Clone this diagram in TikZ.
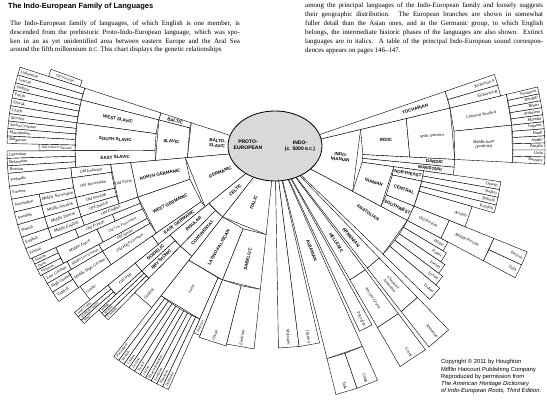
\documentclass[tikz,border=0pt]{standalone}
\usepackage{fontspec}
\setmainfont{Liberation Serif}
\setsansfont{Liberation Sans}
\usetikzlibrary{positioning}

\tikzset{
  cell/.style={draw=black,line width=0.35pt,fill=white},
  lang/.style={inner sep=0.3pt,align=center,font=\fontsize{3.6}{4}\selectfont},
  it/.style={font=\fontsize{3.6}{4}\selectfont\itshape},
  thin/.style={font=\fontsize{3.1}{3.5}\selectfont},
  thinit/.style={font=\fontsize{3.1}{3.5}\selectfont\itshape},
  grp/.style={font=\sffamily\bfseries\fontsize{3.8}{4.3}\selectfont},
  pie/.style={align=center,font=\sffamily\bfseries\fontsize{4.3}{5}\selectfont},
}
\newcounter{cellno}
% one wedge of the fan, angles and radii about the centre
\newcommand{\fpoly}[4]{\draw[cell] (#1:#3) -- (#1:#4) -- (#2:#4) -- (#2:#3) -- cycle;}
\newcommand{\flab}[4][]{%
  \pgfmathsetmacro\fanRot{(#2>90 && #2<270) ? 180-#2 : -#2}%
  \stepcounter{cellno}%
  \node[lang,rotate=\fanRot,#1] (lab\thecellno) at (#2:#3) {#4};}
\newcommand{\fcell}[6][]{\fpoly{#2}{#3}{#4}{#5}%
  \pgfmathsetmacro\fanA{(#2+#3)/2}\pgfmathsetmacro\fanR{(#4+#5)/2}%
  \flab[#1]{\fanA}{\fanR}{#6}}
\newcommand{\ftip}[6][]{\fpoly{#2}{#3}{#4}{#5}%
  \pgfmathsetmacro\fanA{(#2+#3)/2}\pgfmathsetmacro\fanR{#5-1.5}%
  \pgfmathtruncatemacro\fanL{(\fanA>90 && \fanA<270) ? 1 : 0}%
  \ifnum\fanL=1 \flab[anchor=west,#1]{\fanA}{\fanR}{#6}\else\flab[anchor=east,#1]{\fanA}{\fanR}{#6}\fi}

\begin{document}
\begin{tikzpicture}[x=0.03cm,y=-0.03cm]
\useasboundingbox (0,0) rectangle (547,400);
\fill[white] (0,0) rectangle (547,400);

% heading and text
\node[anchor=north west,inner sep=0,font=\sffamily\bfseries\fontsize{6.4}{7}\selectfont] (title) at (8,2.5) {The Indo-European Family of Languages};
\node[anchor=north west,inner sep=0,text width=196pt,align=justify,font=\fontsize{5.9}{7.5}\selectfont] (textL) at (10,20.5) {\parfillskip=0pt
The Indo-European family of languages, of which English is one member, is\linebreak
descended from the prehistoric Proto-Indo-European language, which was spo-\linebreak
ken in an as yet unidentified area between eastern Europe and the Aral Sea\linebreak
around the fifth millennium {\fontsize{4.7}{5}\selectfont B.C.} This chart displays the genetic relationships};
\node[anchor=north west,inner sep=0,text width=203pt,align=justify,font=\fontsize{5.9}{7.6}\selectfont] (textR) at (305,2.5) {%
among the principal languages of the Indo-European family and loosely suggests\linebreak
their geographic distribution. The European branches are shown in somewhat\linebreak
fuller detail than the Asian ones, and in the Germanic group, to which English\linebreak
belongs, the intermediate historic phases of the languages are also shown. Extinct\linebreak
languages are in italics. A table of the principal Indo-European sound correspon-\linebreak
dences appears on pages 146--147.};
\node[anchor=north west,inner sep=0,align=left,font=\sffamily\fontsize{5}{6.1}\selectfont] (copy) at (441,359.5) {Copyright \textcopyright{} 2011 by Houghton\\
Mifflin Harcourt Publishing Company\\
Reproduced by permission from\\
\textit{The American Heritage Dictionary}\\
\textit{of Indo-European Roots, Third Edition.}};

\begin{scope}[shift={(275,150)}]
% Balto-Slavic
\fcell[grp]{175}{198}{28}{88}{BALTO-\\SLAVIC}
\fcell[grp]{194.5}{198}{88}{120}{BALTIC}
\fcell[grp]{175}{194.5}{88}{120}{SLAVIC}
\fpoly{194.5}{198}{120}{200}
\fcell[grp]{187.8}{194.5}{120}{200}{WEST SLAVIC}
\fcell[grp]{179.8}{187.8}{120}{200}{SOUTH SLAVIC}
\fcell[grp]{175}{179.8}{120}{200}{EAST SLAVIC}
\fcell[thinit]{198}{199.8}{205}{238}{Old Prussian}
\ftip{196.25}{198}{200}{268}{Lithuanian}
\ftip{194.5}{196.25}{200}{268}{Latvian}
\ftip{192.9}{194.5}{200}{268}{Sorbian}
\ftip{191.2}{192.9}{200}{268}{Polish}
\ftip{189.5}{191.2}{200}{268}{Slovak}
\ftip{187.8}{189.5}{200}{268}{Czech}
\ftip{186.2}{187.8}{200}{268}{Slovene}
\ftip{184.6}{186.2}{200}{268}{Serbo-Croatian}
\ftip{183}{184.6}{200}{268}{Macedonian}
\ftip{181.4}{183}{200}{268}{Bulgarian}
\fcell[thinit]{179.8}{181.4}{200}{236}{Old Church Slavonic}
\ftip{178.2}{179.8}{200}{268}{Ukrainian}
\ftip{176.6}{178.2}{200}{268}{Belarusian}
\ftip{175}{176.6}{200}{268}{Russian}

% Germanic
\fcell[grp]{141}{175}{28}{90}{GERMANIC}
\fcell[grp]{161}{175}{90}{145}{NORTH GERMANIC}
\fcell[grp]{145}{161}{90}{145}{WEST GERMANIC}
\fcell[grp]{141}{145}{90}{150}{EAST GERMANIC}
\fcell[it]{161}{175}{145}{165}{Old Norse}
\fcell[it]{172.2}{175}{165}{205}{Old Icelandic}
\fcell[it]{166.6}{172.2}{165}{205}{Old Norwegian}
\fcell[it]{163.8}{166.6}{165}{205}{Old Swedish}
\fcell[it]{161}{163.8}{165}{205}{Old Danish}
\ftip{172.2}{175}{205}{268}{Icelandic}
\ftip{169.4}{172.2}{205}{268}{Faroese}
\fcell[it]{166.6}{169.4}{205}{240}{Middle Norwegian}
\fcell[it]{163.8}{166.6}{205}{240}{Middle Swedish}
\fcell[it]{161}{163.8}{205}{240}{Middle Danish}
\ftip{166.6}{169.4}{240}{268}{Norwegian}
\ftip{163.8}{166.6}{240}{268}{Swedish}
\ftip{161}{163.8}{240}{268}{Danish}
\fcell[it]{158.4}{161}{145}{205}{Old English}
\fcell[it]{158.4}{161}{205}{240}{Middle English}
\ftip{158.4}{161}{240}{268}{English}
\fpoly{156}{158.4}{145}{175}
\fcell[it]{156}{158.4}{175}{215}{Old Frisian}
\ftip{156}{158.4}{215}{268}{Frisian}
\fcell[thinit]{151.8}{156}{145}{195}{Old Low Franconian}
\fcell[it]{151.8}{156}{195}{240}{Middle Dutch}
\ftip[thin]{154.6}{156}{240}{266}{Flemish}
\ftip[thin]{153.2}{154.6}{240}{266}{Dutch}
\ftip[thin]{151.8}{153.2}{240}{266}{Afrikaans}
\fcell[it]{149.6}{151.8}{145}{200}{Old Saxon}
\fcell[thinit]{149.6}{151.8}{200}{236}{Middle Low German}
\ftip{149.6}{151.8}{236}{264}{Low German}
\fcell[it]{145}{149.6}{145}{200}{Old High German}
\fcell[it]{145}{149.6}{200}{240}{Middle High German}
\ftip{147.4}{149.6}{240}{264}{High German}
\ftip{145}{147.4}{240}{264}{Yiddish}
\ftip[it]{141}{145}{150}{238}{Gothic}

% Celtic
\fcell[grp]{128}{141}{28}{85}{CELTIC}
\fcell[grp]{134.5}{141}{85}{135}{INSULAR}
\fcell[grp]{128}{134.5}{85}{135}{CONTINENTAL}
\fcell[grp]{137.75}{141}{135}{180}{GOIDELIC}
\fcell[grp]{134.5}{137.75}{135}{180}{BRYTHONIC}
\fcell[it]{137.75}{141}{180}{215}{Old Irish}
\ftip[thin]{139.7}{141}{215}{258}{Irish Gaelic}
\ftip[thin]{138.7}{139.7}{215}{258}{Scottish Gaelic}
\ftip[thin]{137.75}{138.7}{215}{258}{Manx}
\ftip[thin]{136.7}{137.75}{180}{238}{Welsh}
\ftip[thin]{135.6}{136.7}{180}{238}{Breton}
\ftip[thin]{134.5}{135.6}{180}{238}{Cornish}
\ftip[it]{128}{134.5}{135}{200}{Gaulish}

% Italic
\fcell[grp]{96}{128}{28}{85}{ITALIC}
\fcell[grp]{112}{128}{85}{140}{LATINO-FALISCAN}
\fcell[grp]{96}{112}{85}{140}{SABELLIC}
\fcell[it]{114}{128}{140}{185}{Latin}
\ftip[thinit]{112}{114}{140}{200}{Faliscan}
\ftip[thin]{126.6}{128}{185}{262}{Portuguese}
\ftip[thin]{125.2}{126.6}{185}{262}{Spanish}
\ftip[thin]{123.8}{125.2}{185}{262}{Catalan}
\ftip[thin]{122.4}{123.8}{185}{262}{Occitan}
\ftip[thin]{121}{122.4}{185}{262}{French}
\ftip[thin]{119.6}{121}{185}{262}{Italian}
\ftip[thin]{118.2}{119.6}{185}{262}{Rhaeto-Romance}
\ftip[thin]{116.8}{118.2}{185}{262}{Sardinian}
\ftip[thin]{115.4}{116.8}{185}{262}{Romanian}
\ftip[thin]{114}{115.4}{185}{262}{Dalmatian}
\ftip[it]{104}{112}{140}{202}{Oscan}
\ftip[it]{96}{104}{140}{200}{Umbrian}

% small branches below the centre
\ftip[it]{83}{89}{28}{198}{Messapic}
\ftip[it]{77}{83}{28}{198}{Illyrian}

% Albanian, Hellenic, Armenian
\fpoly{66}{76}{28}{215}
\flab[grp]{70}{107}{ALBANIAN}
\ftip{71}{76}{215}{252}{Tosk}
\ftip{66}{71}{215}{252}{Gheg}
\ftip[it]{61}{65}{28}{200}{Phrygian}
\fpoly{53}{60}{28}{150}
\flab[grp]{56.5}{111}{HELLENIC}
\fcell[it]{53}{60}{150}{205}{Ancient Greek}
\ftip{53}{60}{205}{250}{Greek}
\fpoly{46}{52}{28}{150}
\flab[grp]{49}{116}{ARMENIAN}
\fcell[it]{46}{52}{150}{205}{Classical\\Armenian}
\ftip{46}{52}{205}{250}{Armenian}

% Anatolian
\fpoly{28}{44}{28}{150}
\flab[grp]{34}{112}{ANATOLIAN}
\ftip[it]{28}{31}{150}{196}{Hittite}
\ftip[it]{31}{34}{150}{200}{Palaic}
\ftip[it]{34}{37}{150}{205}{Luvian}
\ftip[it]{37}{40}{150}{210}{Lycian}
\ftip[it]{40}{44}{150}{215}{Lydian}

% Indo-Iranian
\fpoly{346.5}{388}{28}{88}
\flab[grp]{6}{66}{INDO-\\IRANIAN}
\fcell[grp]{346.5}{363}{88}{135}{INDIC}
\fcell[it]{346.5}{363}{135}{180}{Vedic Sanskrit}
\fcell[it]{346.5}{354}{180}{238}{Classical Sanskrit}
\fcell[it]{354}{363}{180}{238}{Middle Indic\\(Prakrits)}
\ftip{346.5}{348}{238}{270}{Assamese}
\ftip{348}{349.5}{238}{270}{Bengali}
\ftip{349.5}{351}{238}{270}{Bihari}
\ftip{351}{352.5}{238}{270}{Sinhalese}
\ftip{352.5}{354}{238}{270}{Marathi}
\ftip{354}{355.5}{238}{270}{Gujarati}
\ftip{355.5}{357}{238}{270}{Hindi}
\ftip{357}{358.5}{238}{270}{Sindhi}
\ftip{358.5}{360}{238}{270}{Punjabi}
\ftip{360}{361.5}{238}{270}{Urdu}
\ftip{361.5}{363}{238}{270}{Romany}
\fpoly{363}{365.5}{88}{180}
\flab[grp]{364.25}{160}{DARDIC}
\fpoly{365.5}{368}{88}{180}
\flab[grp]{366.75}{156}{NURISTANI}
\fcell[grp]{8}{28}{88}{120}{IRANIAN}
\fcell[grp]{8}{12}{120}{150}{NORTHEAST}
\fcell[grp]{12}{22}{120}{150}{CENTRAL}
\fcell[grp]{22}{28}{120}{150}{SOUTHWEST}
\ftip{8}{10}{150}{228}{Ossetic}
\ftip{10}{12}{150}{228}{Pashto}
\ftip{12}{14}{150}{228}{Baluchi}
\ftip{14}{16}{150}{228}{Kurdish}
\ftip[it]{16}{22}{150}{205}{Avestan}
\fcell[it]{22}{28}{150}{188}{Old Persian}
\fcell[it]{22}{28}{188}{236}{Middle Persian}
\ftip{22}{25}{236}{272}{Persian}
\ftip{25}{28}{236}{272}{Tajik}

% Tocharian
\fpoly{341}{346.5}{28}{180}
\flab[grp]{343.75}{146}{TOCHARIAN}
\ftip[it]{341}{343.75}{180}{232}{Tocharian A}
\ftip[it]{343.75}{346.5}{180}{232}{Tocharian B}

% the parent language
\filldraw[fill=gray!30,draw=black,line width=0.7pt] (0,-4) ellipse [x radius=47, y radius=35];
\node[pie] (proto) at (-27,-5) {PROTO-\\EUROPEAN};
\node[pie] (indo) at (25,-4) {INDO-\\(c. 5000 {\fontsize{3.5}{4}\selectfont B.C.})};
\end{scope}
\end{tikzpicture}
\end{document}
